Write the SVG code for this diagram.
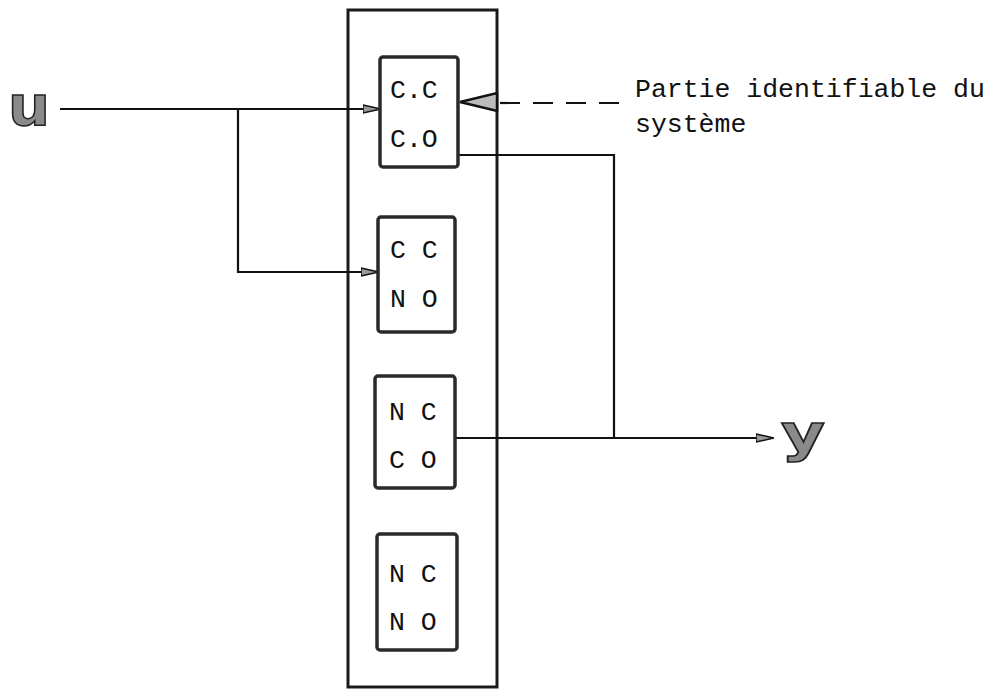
<svg xmlns="http://www.w3.org/2000/svg" width="991" height="693" viewBox="0 0 991 693">
<defs>
<style>
.box{fill:#fff;stroke:#2a2a2a;stroke-width:3.5;}
.outer{fill:none;stroke:#1a1a1a;stroke-width:3;}
.lbl{font-family:"Liberation Mono","DejaVu Sans Mono",monospace;font-size:26.5px;fill:#111;}
.big{font-family:"DejaVu Sans","Liberation Sans",sans-serif;font-weight:bold;fill:#8a8a8a;stroke:#222;stroke-width:1.5;}
.ln{fill:none;stroke:#111;stroke-width:2.2;}
</style>
<marker id="arr" viewBox="0 0 18 10" refX="17" refY="5" markerWidth="18" markerHeight="10" markerUnits="userSpaceOnUse" orient="auto">
<path d="M0,1 L18,5 L0,9 Z" fill="#999" stroke="#111" stroke-width="1.5"/>
</marker>
</defs>
<rect id="system" class="outer" x="348" y="10" width="149" height="677"/>
<g id="connectors">
<path class="ln" d="M60,109 L380,109" marker-end="url(#arr)"/>
<path class="ln" d="M238,109 L238,272 L378,272" marker-end="url(#arr)"/>
<path class="ln" d="M458,155 L614,155 L614,438"/>
<path class="ln" d="M455,438 L773,438" marker-end="url(#arr)"/>
<path class="ln" d="M500,103 L623,103" stroke-dasharray="20 13"/>
<path d="M460,102 L497,93 L497,111 Z" fill="#bbb" stroke="#111" stroke-width="2.5"/>
</g>
<g id="u"><text class="big" x="8" y="125" font-size="56" textLength="42" lengthAdjust="spacingAndGlyphs">u</text></g>
<g id="y"><text class="big" x="781" y="451" font-size="52" textLength="44" lengthAdjust="spacingAndGlyphs">y</text></g>
<g id="box-CCCO">
<rect class="box" x="380" y="57" width="78" height="110" rx="3"/>
<text class="lbl" x="390" y="98">C.C</text>
<text class="lbl" x="390" y="147">C.O</text>
</g>
<g id="box-CCNO">
<rect class="box" x="378" y="217" width="77" height="115" rx="3"/>
<text class="lbl" x="390" y="258">C C</text>
<text class="lbl" x="390" y="307">N O</text>
</g>
<g id="box-NCCO">
<rect class="box" x="375" y="376" width="80" height="112" rx="3"/>
<text class="lbl" x="389" y="420">N C</text>
<text class="lbl" x="389" y="468">C O</text>
</g>
<g id="box-NCNO">
<rect class="box" x="377" y="534" width="80" height="116" rx="3"/>
<text class="lbl" x="389" y="582">N C</text>
<text class="lbl" x="389" y="630">N O</text>
</g>
<g id="note">
<text class="lbl" x="635" y="97">Partie identifiable du</text>
<text class="lbl" x="635" y="132">système</text>
</g>
</svg>
